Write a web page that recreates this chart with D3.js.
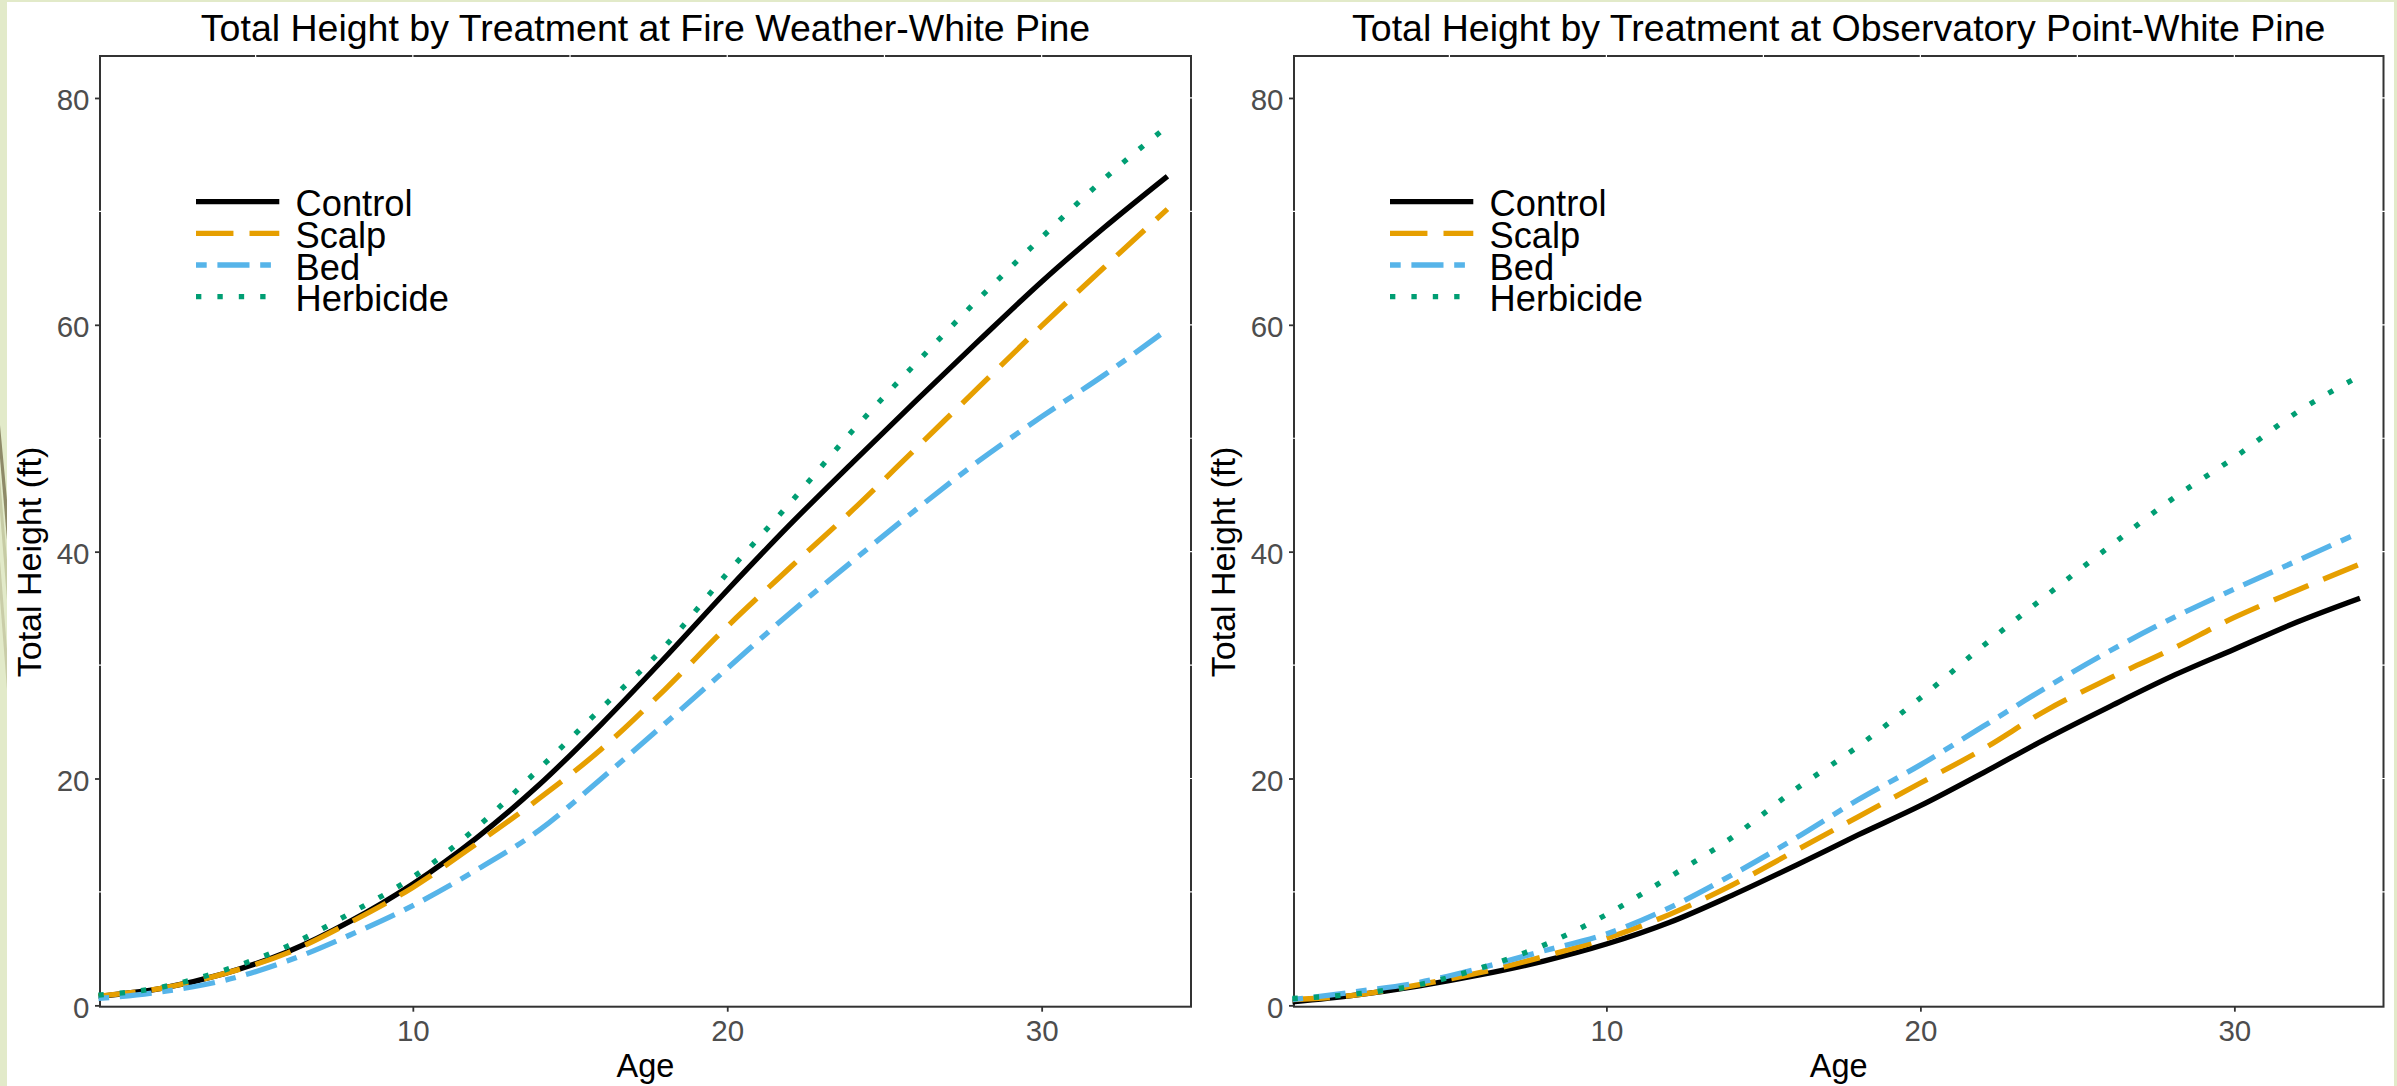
<!DOCTYPE html>
<html><head><meta charset="utf-8">
<script src="https://cdn.jsdelivr.net/npm/d3@7"></script>
<style>
html,body{margin:0;padding:0;background:#e2eac9;overflow:hidden;}
svg{display:block;}
text{font-family:"Liberation Sans", Arial, sans-serif;}
</style></head><body>
<svg id="chart" width="2397" height="1086"></svg>
<script>
// ---------- data ----------
const ages = [0, 2, 4, 6, 8, 10, 12, 14, 16, 18, 20, 22, 24, 26, 28, 30, 32, 34];
const treatments = ["Control", "Scalp", "Bed", "Herbicide"];

const fireControl   = [0.8, 1.5, 2.8, 4.7, 7.4, 10.7, 14.7, 19.4, 24.8, 30.6, 36.6, 42.4, 47.9, 53.3, 58.6, 63.8, 68.6, 73.1];
const fireScalp     = [0.8, 1.5, 2.8, 4.6, 7.3, 10.4, 14.2, 18.2, 22.6, 27.8, 33.4, 38.6, 43.7, 49.1, 54.5, 59.9, 65.1, 70.2];
const fireBed       = [0.6, 1.2, 2.2, 3.9, 6.2, 8.8, 11.9, 15.4, 20.0, 24.8, 29.7, 34.6, 39.2, 43.7, 48.0, 51.9, 55.6, 59.6];
const fireHerbicide = [0.9, 1.6, 3.1, 5.2, 8.1, 11.3, 15.6, 20.8, 26.2, 31.6, 38.1, 44.3, 50.7, 56.6, 62.3, 67.7, 72.9, 77.5];

const obsControl    = [0.3, 0.9, 1.7, 2.7, 3.9, 5.4, 7.3, 9.7, 12.3, 15.0, 17.6, 20.5, 23.5, 26.3, 29.0, 31.4, 33.8, 35.9];
const obsScalp      = [0.5, 0.9, 1.8, 2.9, 4.3, 5.9, 8.0, 10.6, 13.6, 16.6, 19.6, 22.6, 26.0, 28.8, 31.4, 34.2, 36.6, 38.9];
const obsBed        = [0.5, 1.2, 2.0, 3.3, 4.8, 6.3, 8.6, 11.5, 14.7, 18.1, 21.2, 24.6, 28.0, 31.2, 34.1, 36.7, 39.2, 41.7];
const obsHerbicide  = [0.6, 1.0, 1.8, 3.3, 5.3, 8.0, 11.3, 14.8, 19.0, 22.8, 27.1, 31.7, 36.1, 40.4, 44.6, 48.3, 52.3, 55.5];

const panelTitles = [
  "Total Height by Treatment at Fire Weather-White Pine",
  "Total Height by Treatment at Observatory Point-White Pine"
];
const xTickValues = [10, 20, 30];
const yTickValues = [0, 20, 40, 60, 80];
const xGridValues = [5, 10, 15, 20, 25, 30];
const yGridValues = [10, 20, 30, 40, 50, 60, 70, 80];
const xLabel = "Age";
const yLabel = "Total Height (ft)";

// ---------- styles ----------
const colors = ["#000000", "#E69F00", "#56B4E9", "#009E73"];
const dashUnits = [null, [7, 3], [2, 2, 6, 2], [1, 3]];
const unit = 5.35;
const lineW = 5.3;

const svg = d3.select("#chart");

// page background / slide frame
svg.append("rect").attr("x", 0).attr("y", 0).attr("width", 2397).attr("height", 1086).attr("fill", "#e2eac9");
svg.append("polygon").attr("points", "0,425 7,500 7,540 0,458").attr("fill", "#8e8a68");
svg.append("polygon").attr("points", "0,478 7,560 7,600 0,512").attr("fill", "#c6cba4");
svg.append("polygon").attr("points", "0,560 7,650 7,690 0,598").attr("fill", "#c9cda8");
svg.append("rect").attr("x", 7).attr("y", 2).attr("width", 2387).attr("height", 1084).attr("fill", "#ffffff");

const panelTop = 56, panelBottom = 1006.7;
const panels = [
  {left: 100, right: 1191, title: panelTitles[0], series: [fireControl, fireScalp, fireBed, fireHerbicide]},
  {left: 1294, right: 2383.5, title: panelTitles[1], series: [obsControl, obsScalp, obsBed, obsHerbicide]}
];

panels.forEach(p => {
  const x = d3.scaleLinear().domain([0.05, 34.75]).range([p.left, p.right]);
  const y = d3.scaleLinear().domain([-0.12, 83.7]).range([panelBottom, panelTop]);
  const g = svg.append("g");

  // panel border
  g.append("rect").attr("x", p.left).attr("y", panelTop)
    .attr("width", p.right - p.left).attr("height", panelBottom - panelTop)
    .attr("fill", "#ffffff").attr("stroke", "#333333").attr("stroke-width", 2);

  // white grid lines (visible only where they cross the border)
  g.selectAll(".vg").data(xGridValues).join("line")
    .attr("x1", d => x(d)).attr("x2", d => x(d))
    .attr("y1", panelTop - 2).attr("y2", panelBottom - 2)
    .attr("stroke", "#ffffff").attr("stroke-width", 1.2);
  g.selectAll(".hg").data(yGridValues).join("line")
    .attr("x1", d => (d % 20 === 0) ? p.left + 1.5 : p.left - 2).attr("x2", p.right + 2)
    .attr("y1", d => y(d)).attr("y2", d => y(d))
    .attr("stroke", "#ffffff").attr("stroke-width", 1.2);

  // axes
  const xAxis = d3.axisBottom(x).tickValues(xTickValues).tickSize(5).tickSizeOuter(0).tickPadding(0);
  const gx = g.append("g").attr("transform", `translate(0,${panelBottom})`).call(xAxis);
  gx.select(".domain").remove();
  gx.selectAll(".tick line").attr("stroke", "#333333").attr("stroke-width", 1.8);
  gx.selectAll(".tick text").attr("y", 34.3).attr("dy", null)
    .attr("fill", "#4d4d4d").style("font-size", "29.5px").style("font-family", "'Liberation Sans', Arial, sans-serif");

  const yAxis = d3.axisLeft(y).tickValues(yTickValues).tickSize(5).tickSizeOuter(0).tickPadding(0);
  const gy = g.append("g").attr("transform", `translate(${p.left},0)`).call(yAxis);
  gy.select(".domain").remove();
  gy.selectAll(".tick line").attr("stroke", "#333333").attr("stroke-width", 1.8);
  gy.selectAll(".tick text").attr("x", -10.5).attr("dy", null).attr("y", 12)
    .attr("fill", "#4d4d4d").style("font-size", "29.5px").style("font-family", "'Liberation Sans', Arial, sans-serif");

  // lines
  const line = d3.line().x((d, i) => x(ages[i])).y(d => y(d)).curve(d3.curveMonotoneX);
  p.series.forEach((vals, k) => {
    g.append("path").datum(vals).attr("d", line)
      .attr("fill", "none").attr("stroke", colors[k]).attr("stroke-width", lineW)
      .attr("stroke-linecap", "butt").attr("stroke-linejoin", "round")
      .attr("stroke-dasharray", dashUnits[k] ? dashUnits[k].map(u => u * unit).join(",") : null);
  });

  // legend
  const lg = g.append("g");
  treatments.forEach((name, k) => {
    const ky = 201.7 + 31.65 * k;
    lg.append("line").attr("x1", p.left + 96).attr("x2", p.left + 179.3)
      .attr("y1", ky).attr("y2", ky)
      .attr("stroke", colors[k]).attr("stroke-width", lineW).attr("stroke-linecap", "butt")
      .attr("stroke-dasharray", dashUnits[k] ? dashUnits[k].map(u => u * unit).join(",") : null);
    lg.append("text").attr("x", p.left + 195.5).attr("y", 216.3 + 31.6 * k)
      .attr("fill", "#000").style("font-size", "36.3px").text(name);
  });

  // titles
  const cx = (p.left + p.right) / 2;
  g.append("text").attr("x", cx).attr("y", 40.7).attr("text-anchor", "middle")
    .attr("fill", "#000").style("font-size", "37.5px").text(p.title);
  g.append("text").attr("x", cx).attr("y", 1076.7).attr("text-anchor", "middle")
    .attr("fill", "#000").style("font-size", "32.5px").text(xLabel);
  g.append("text").attr("transform", `translate(${p.left - 59},${562}) rotate(-90)`)
    .attr("text-anchor", "middle").attr("fill", "#000").style("font-size", "34px").text(yLabel);
});
</script>
</body></html>
